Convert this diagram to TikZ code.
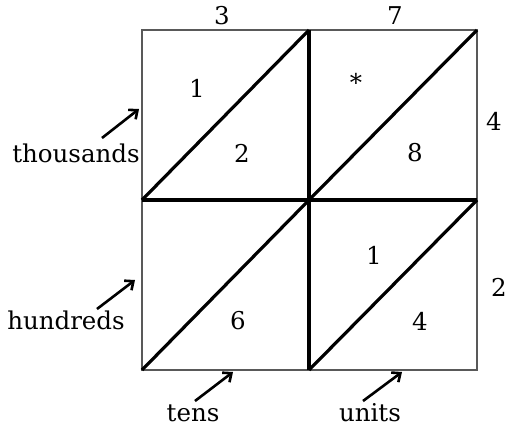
\documentclass[tikz,border=0pt]{standalone}
\usepackage{fontspec}
\setmainfont{DejaVu Serif}
\usetikzlibrary{arrows.meta}
\begin{document}
\begin{tikzpicture}[x=1pt,y=-1pt,
  lbl/.style={font=\fontsize{24.5}{28}\selectfont, inner sep=0pt},
  outer/.style={draw=gray!70!black, line width=1.7pt},
  inner/.style={draw=black, line width=3.2pt},
  pointer/.style={draw=black, line width=2.6pt, -{Straight Barb[length=7pt,width=12pt]}}]
\useasboundingbox (0,0) rectangle (509,432);
% grid corners
\coordinate (tl) at (142,30); \coordinate (tm) at (309,30); \coordinate (tr) at (477,30);
\coordinate (ml) at (142,200); \coordinate (mm) at (309,200); \coordinate (mr) at (477,200);
\coordinate (bl) at (142,370); \coordinate (bm) at (309,370); \coordinate (br) at (477,370);
% outer border
\draw[outer] (tl) -- (tr) -- (br) -- (bl) -- cycle;
% inner lines
\draw[inner] (ml) -- (mr);
\draw[inner] (tm) -- (bm);
\draw[inner] (ml) -- (tm);
\draw[inner] (mm) -- (tr);
\draw[inner] (bl) -- (mm);
\draw[inner] (bm) -- (mr);
% labels
\node[lbl] (c3) at (222,16) {3};
\node[lbl] (c7) at (395,16) {7};
\node[lbl] (r4) at (494,121) {4};
\node[lbl] (r2) at (499,287) {2};
\node[lbl] (a1) at (197,88) {1};
\node[lbl] (a2) at (242,153) {2};
\node[lbl] (bs) at (356,82) {*};
\node[lbl] (b8) at (415,153) {8};
\node[lbl] (d1) at (374,255) {1};
\node[lbl] (d4) at (420,321) {4};
\node[lbl] (c6) at (238,321) {6};
\node[lbl] (th) at (76,153) {thousands};
\node[lbl] (hu) at (66,320) {hundreds};
\node[lbl] (te) at (193,413) {tens};
\node[lbl] (un) at (370,413) {units};
% arrows
\coordinate (thT) at (102,138); \coordinate (thH) at (139,109);
\coordinate (huT) at (97,309);  \coordinate (huH) at (135,280);
\coordinate (teT) at (195,401); \coordinate (teH) at (233,372);
\coordinate (unT) at (363,401); \coordinate (unH) at (402,372);
\draw[pointer] (thT) -- (thH);
\draw[pointer] (huT) -- (huH);
\draw[pointer] (teT) -- (teH);
\draw[pointer] (unT) -- (unH);
\end{tikzpicture}
\end{document}
